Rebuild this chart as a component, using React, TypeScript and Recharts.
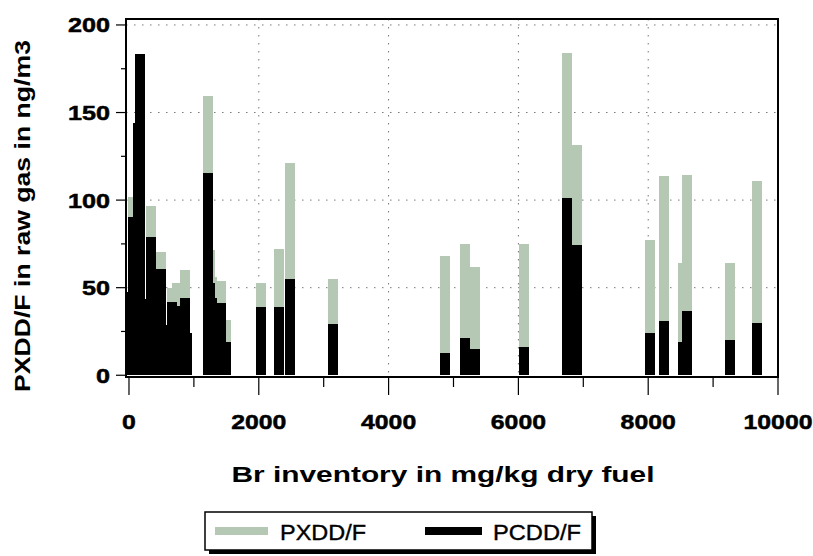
import { BarChart, Bar, XAxis, YAxis, CartesianGrid, ReferenceArea } from "recharts";

// Br inventory of each test run, mg/kg dry fuel
const brInventory = [
  31, 69, 146, 165, 189, 335, 347, 494, 512, 659, 736, 867, 893,
  1222, 1252, 1278, 1424, 1498, 2039, 2306, 2481, 3151,
  4874, 5177, 5331, 6086, 6749, 6898, 8035, 8249, 8537, 8601, 9266, 9672,
];
// total PXDD/F in raw gas, ng/m3
const pxddTotal = [
  47.6, 102, 143.8, 183.4, 43.8, 96.6, 39, 70.5, 28.6, 50, 52.8, 60, 24,
  159.4, 71.4, 56, 53.9, 31.8, 52.8, 71.8, 121.3, 55.2,
  68.2, 75.2, 61.9, 74.7, 183.8, 131.4, 77.1, 113.9, 64.2, 114.5, 64.2, 111,
];
// chlorinated part PCDD/F, ng/m3
const pcddValues = [
  47.6, 90.5, 143.8, 183.4, 43.8, 79, 39, 60.4, 28.6, 42, 39.4, 44, 24,
  115.2, 52.4, 44, 41, 19, 38.7, 38.7, 55.2, 29.1,
  12.8, 21, 15.2, 16.2, 101.3, 74.1, 24.2, 31, 19, 36.6, 20, 30.1,
];

const xTicks = [0, 1000, 2000, 3000, 4000, 5000, 6000, 7000, 8000, 9000, 10000];
const yTicks = [0, 25, 50, 75, 100, 125, 150, 175, 200];
const xGrid = [2000, 4000, 6000, 8000];
const yGrid = [50, 100, 150, 200];

const X_DOMAIN: [number, number] = [-46, 10000];
const Y_DOMAIN: [number, number] = [-1, 203.4];

const GRAY = "#b4c8b4";
const FONT = "'Liberation Sans', Arial, sans-serif";
const BAR_W = 10;

const data = brInventory.map((br, i) => ({ br, pxdd: pxddTotal[i], pcdd: pcddValues[i] }));

// every bar gets the same pixel width, centred on its Br value
function FixedBar(props: any) {
  const { x, y, width, height, fill } = props;
  if (!height || height <= 0) return <g />;
  return (
    <rect x={x + width / 2 - BAR_W / 2} y={y} width={BAR_W} height={height} fill={fill}
      shapeRendering="crispEdges" />
  );
}

function XTick(props: any) {
  const { x, y, payload } = props;
  const major = payload.value % 2000 === 0;
  const s = String(payload.value);
  return (
    <g>
      <line x1={x} x2={x} y1={y} y2={y + (major ? 18 : 10)} stroke="#000" strokeWidth={1.2} />
      {major && (
        <text x={x} y={y + 52} textAnchor="middle" fontFamily={FONT} fontWeight="bold" fontSize={21}
          textLength={s.length * 13.8} lengthAdjust="spacingAndGlyphs" fill="#000" stroke="#000" strokeWidth={0.5}>
          {s}
        </text>
      )}
    </g>
  );
}

function YTick(props: any) {
  const { x, y, payload } = props;
  const major = payload.value % 50 === 0;
  const s = String(payload.value);
  return (
    <g>
      <line x1={x - (major ? 10 : 5)} x2={x} y1={y} y2={y} stroke="#000" strokeWidth={1.2} />
      {major && (
        <text x={x - 16} y={y + 7.5} textAnchor="end" fontFamily={FONT} fontWeight="bold" fontSize={21}
          textLength={s.length * 14} lengthAdjust="spacingAndGlyphs" fill="#000" stroke="#000" strokeWidth={0.5}>
          {s}
        </text>
      )}
    </g>
  );
}

function YTitle(props: any) {
  const vb = props.viewBox || {};
  const cx = vb.x - 4;
  const cy = vb.y + vb.height / 2 + 18;
  return (
    <text x={cx} y={cy} transform={`rotate(-90 ${cx} ${cy})`} dy={8} textAnchor="middle"
      fontFamily={FONT} fontWeight="bold" fontSize={22} textLength={352} lengthAdjust="spacingAndGlyphs">
      PXDD/F in raw gas in ng/m3
    </text>
  );
}

function XTitle(props: any) {
  const vb = props.viewBox || {};
  return (
    <text x={vb.x + vb.width / 2 - 9} y={vb.y + 105} textAnchor="middle"
      fontFamily={FONT} fontWeight="bold" fontSize={22} textLength={423} lengthAdjust="spacingAndGlyphs">
      Br inventory in mg/kg dry fuel
    </text>
  );
}

function LegendBox() {
  return (
    <svg width={400} height={50} style={{ position: "absolute", left: 203, top: 510 }}>
      <rect x={6} y={6} width={387} height={38} fill="#000" />
      <rect x={2} y={2} width={387} height={38} fill="#fff" stroke="#000" strokeWidth={1.5} />
      <rect x={12} y={17} width={53} height={8} fill={GRAY} />
      <text x={77} y={30} fontFamily={FONT} fontSize={22} textLength={86} lengthAdjust="spacingAndGlyphs"
        stroke="#000" strokeWidth={0.4}>PXDD/F</text>
      <rect x={222} y={17} width={57} height={8} fill="#000" />
      <text x={290} y={30} fontFamily={FONT} fontSize={22} textLength={88} lengthAdjust="spacingAndGlyphs"
        stroke="#000" strokeWidth={0.4}>PCDD/F</text>
    </svg>
  );
}

export default function App() {
  return (
    <div style={{ position: "absolute", left: 0, top: 0, width: 813, height: 556, background: "#fff" }}>
      <BarChart width={813} height={556} data={data} margin={{ top: 19, right: 35, left: 26, bottom: 119 }}>
        <CartesianGrid xAxisId="gray" verticalValues={xGrid} horizontalValues={yGrid}
          stroke="#777" strokeDasharray="1.5 6.5" />
        <XAxis xAxisId="gray" type="number" dataKey="br" domain={X_DOMAIN} ticks={xTicks} interval={0}
          allowDataOverflow tickSize={0} tickMargin={0} tick={<XTick />} height={60}
          axisLine={{ stroke: "#000", strokeWidth: 2 }} label={<XTitle />} />
        <XAxis xAxisId="black" type="number" dataKey="br" domain={X_DOMAIN} allowDataOverflow hide height={0} />
        <YAxis type="number" domain={Y_DOMAIN} ticks={yTicks} interval={0} allowDataOverflow
          tickSize={0} tickMargin={0} tick={<YTick />} width={100}
          axisLine={{ stroke: "#000", strokeWidth: 2 }} label={<YTitle />} />
        <Bar xAxisId="gray" dataKey="pxdd" name="PXDD/F" fill={GRAY} shape={FixedBar} isAnimationActive={false} />
        <Bar xAxisId="black" dataKey="pcdd" name="PCDD/F" fill="#000" shape={FixedBar} isAnimationActive={false} />
        <ReferenceArea xAxisId="gray" x1={X_DOMAIN[0]} x2={X_DOMAIN[1]} y1={Y_DOMAIN[0]} y2={Y_DOMAIN[1]}
          fill="none" fillOpacity={0} stroke="#000" strokeWidth={2} ifOverflow="visible" />
      </BarChart>
      <LegendBox />
    </div>
  );
}
